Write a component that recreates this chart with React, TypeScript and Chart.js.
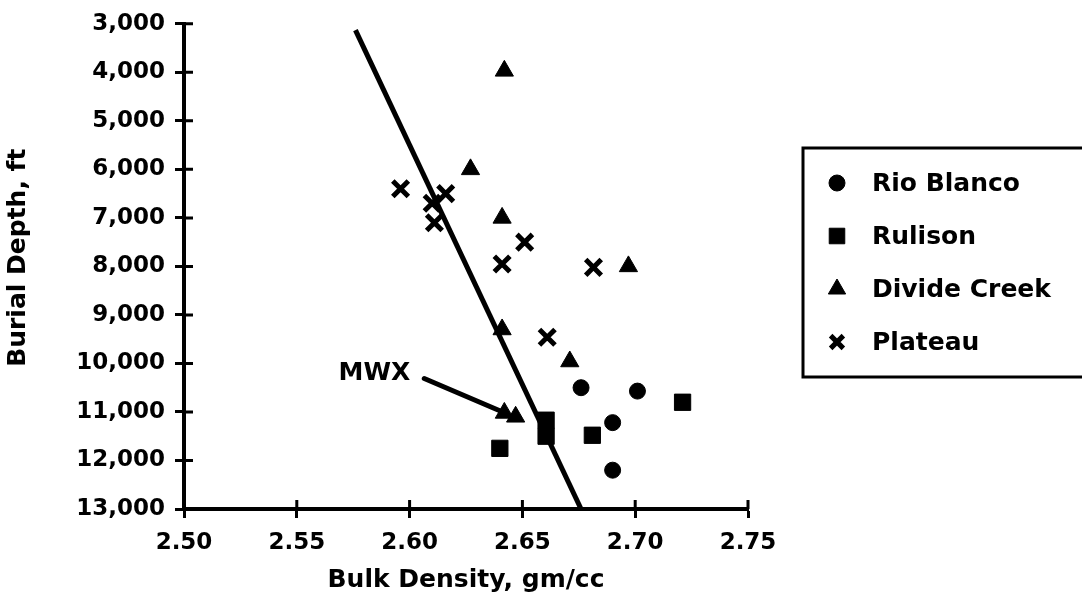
import React, { useEffect, useRef } from 'react';
import { Chart, registerables } from 'chart.js';
import { drawPoint } from 'chart.js/helpers';

Chart.register(...registerables);

// Bulk density (gm/cc) and burial depth (ft) per field
const rioBlancoDensity = [2.676, 2.701, 2.69, 2.69];
const rioBlancoDepth = [10500, 10570, 11220, 12200];

const rulisonDensity = [2.64, 2.6605, 2.6605, 2.681, 2.721];
const rulisonDepth = [11750, 11170, 11500, 11480, 10800];

const divideCreekDensity = [2.642, 2.627, 2.641, 2.697, 2.641, 2.671, 2.642, 2.647];
const divideCreekDepth = [3970, 6000, 7000, 8000, 9300, 9960, 11020, 11100];

const plateauDensity = [2.596, 2.616, 2.61, 2.611, 2.651, 2.641, 2.6815, 2.661];
const plateauDepth = [6400, 6500, 6700, 7100, 7500, 7950, 8020, 9460];

// Compaction trend line
const trendDensity = [2.576, 2.676];
const trendDepth = [3130, 13000];

// Axis ticks
const densityTicks = [2.5, 2.55, 2.6, 2.65, 2.7, 2.75];
const depthTicks = [3000, 4000, 5000, 6000, 7000, 8000, 9000, 10000, 11000, 12000, 13000];

// MWX well callout (arrow from label to its Divide Creek point)
const mwxLabel = 'MWX';
const mwxArrowStart = [2.6065, 10310];
const mwxArrowEnd = [2.6405, 10985];

const FONT = 'DejaVu Sans';
const INK = '#000000';

const pairs = (xs: number[], ys: number[]) => xs.map((x, i) => ({ x, y: ys[i] }));

const innerTicksPlugin = {
  id: 'innerTicks',
  afterDraw(chart: any) {
    const { ctx, chartArea, scales } = chart;
    const len = 9;
    ctx.save();
    ctx.strokeStyle = INK;
    ctx.lineWidth = 3;
    ctx.beginPath();
    for (const v of depthTicks) {
      const y = scales.y.getPixelForValue(v);
      ctx.moveTo(chartArea.left, y);
      ctx.lineTo(chartArea.left + len, y);
    }
    for (const v of densityTicks) {
      const x = scales.x.getPixelForValue(v);
      ctx.moveTo(x, chartArea.bottom);
      ctx.lineTo(x, chartArea.bottom - len);
    }
    ctx.stroke();
    ctx.restore();
  },
};

const calloutPlugin = {
  id: 'mwxCallout',
  afterDatasetsDraw(chart: any) {
    const { ctx, scales } = chart;
    const x0 = scales.x.getPixelForValue(mwxArrowStart[0]);
    const y0 = scales.y.getPixelForValue(mwxArrowStart[1]);
    const x1 = scales.x.getPixelForValue(mwxArrowEnd[0]);
    const y1 = scales.y.getPixelForValue(mwxArrowEnd[1]);
    ctx.save();
    ctx.strokeStyle = INK;
    ctx.lineWidth = 5;
    ctx.lineCap = 'round';
    ctx.beginPath();
    ctx.moveTo(x0, y0);
    ctx.lineTo(x1, y1);
    ctx.stroke();
    ctx.fillStyle = INK;
    ctx.font = `bold 25px "${FONT}"`;
    ctx.textAlign = 'right';
    ctx.textBaseline = 'middle';
    ctx.fillText(mwxLabel, x0 - 14, y0 - 5);
    ctx.restore();
  },
};

const boxedLegendPlugin = {
  id: 'boxedLegend',
  afterDraw(chart: any, _args: any, opts: any) {
    const { ctx } = chart;
    ctx.save();
    ctx.strokeStyle = INK;
    ctx.lineWidth = 3;
    ctx.strokeRect(opts.left, opts.top, opts.width, opts.height);
    ctx.font = `bold 25px "${FONT}"`;
    ctx.textAlign = 'left';
    ctx.textBaseline = 'middle';
    chart.data.datasets
      .filter((ds: any) => ds.type === 'scatter')
      .forEach((ds: any, i: number) => {
        const y = opts.top + opts.firstRow + i * opts.rowGap;
        ctx.fillStyle = INK;
        ctx.strokeStyle = INK;
        ctx.lineWidth = ds.pointBorderWidth;
        drawPoint(
          ctx,
          { pointStyle: ds.pointStyle, radius: ds.legendRadius, rotation: 0, borderWidth: ds.pointBorderWidth },
          opts.left + opts.markerOffset,
          y
        );
        ctx.fillText(ds.label, opts.left + opts.textOffset, y + 1);
      });
    ctx.restore();
  },
};

export default function App() {
  const canvasRef = useRef<HTMLCanvasElement | null>(null);

  useEffect(() => {
    if (!canvasRef.current) return;
    const tickFont = { family: FONT, size: 23, weight: 'bold' as const };
    const titleFont = { family: FONT, size: 25, weight: 'bold' as const };

    const chart = new Chart(canvasRef.current, {
      type: 'scatter',
      data: {
        datasets: [
          {
            type: 'scatter',
            label: 'Rio Blanco',
            data: pairs(rioBlancoDensity, rioBlancoDepth),
            pointStyle: 'circle',
            pointRadius: 8,
            legendRadius: 8,
            pointBackgroundColor: INK,
            pointBorderColor: INK,
            pointBorderWidth: 1,
          } as any,
          {
            type: 'scatter',
            label: 'Rulison',
            data: pairs(rulisonDensity, rulisonDepth),
            pointStyle: 'rect',
            pointRadius: 11.5,
            legendRadius: 11,
            pointBackgroundColor: INK,
            pointBorderColor: INK,
            pointBorderWidth: 1,
          } as any,
          {
            type: 'scatter',
            label: 'Divide Creek',
            data: pairs(divideCreekDensity, divideCreekDepth),
            pointStyle: 'triangle',
            pointRadius: 10.5,
            legendRadius: 10,
            pointBackgroundColor: INK,
            pointBorderColor: INK,
            pointBorderWidth: 1,
          } as any,
          {
            type: 'scatter',
            label: 'Plateau',
            data: pairs(plateauDensity, plateauDepth),
            pointStyle: 'crossRot',
            pointRadius: 11,
            legendRadius: 9,
            pointBackgroundColor: INK,
            pointBorderColor: INK,
            pointBorderWidth: 5,
          } as any,
          {
            type: 'line',
            label: 'Trend',
            data: pairs(trendDensity, trendDepth),
            borderColor: INK,
            borderWidth: 5,
            pointRadius: 0,
            fill: false,
            tension: 0,
          } as any,
        ],
      },
      options: {
        animation: false,
        responsive: true,
        maintainAspectRatio: false,
        events: [],
        layout: { padding: { left: 0, top: 22, right: 334, bottom: 0 } },
        plugins: {
          legend: { display: false },
          tooltip: { enabled: false },
          boxedLegend: {
            left: 803,
            top: 148,
            width: 300,
            height: 229,
            firstRow: 35,
            rowGap: 53,
            markerOffset: 34,
            textOffset: 69,
          },
        } as any,
        scales: {
          x: {
            type: 'linear',
            position: 'bottom',
            min: 2.5,
            max: 2.75,
            afterBuildTicks: (scale: any) => {
              scale.ticks = densityTicks.map((value) => ({ value }));
            },
            afterFit: (scale: any) => {
              scale.height = 87;
            },
            ticks: {
              color: INK,
              font: tickFont,
              padding: 11,
              callback: (v: any) => Number(v).toFixed(2),
            },
            grid: {
              drawOnChartArea: false,
              drawTicks: true,
              tickLength: 9,
              tickWidth: 3,
              tickColor: INK,
            },
            border: { display: true, color: INK, width: 4 },
            title: {
              display: true,
              text: 'Bulk Density, gm/cc',
              color: INK,
              font: titleFont,
              padding: { top: 0, bottom: 1 },
            },
          },
          y: {
            type: 'linear',
            position: 'left',
            reverse: true,
            min: 3000,
            max: 13000,
            afterBuildTicks: (scale: any) => {
              scale.ticks = depthTicks.map((value) => ({ value }));
            },
            afterFit: (scale: any) => {
              scale.width = 184;
            },
            ticks: {
              color: INK,
              font: tickFont,
              padding: 10,
              callback: (v: any) => Number(v).toLocaleString('en-US'),
            },
            grid: {
              drawOnChartArea: false,
              drawTicks: true,
              tickLength: 9,
              tickWidth: 3,
              tickColor: INK,
            },
            border: { display: true, color: INK, width: 4 },
            title: {
              display: true,
              // leading spaces lift the rotated title slightly above the axis centre
              text: '  Burial Depth, ft',
              color: INK,
              font: titleFont,
              padding: { top: 3, bottom: 0 },
            },
          },
        },
      },
      plugins: [innerTicksPlugin, calloutPlugin, boxedLegendPlugin],
    });

    return () => chart.destroy();
  }, []);

  return (
    <div
      style={{
        position: 'fixed',
        left: 0,
        top: 0,
        width: '1082px',
        height: '596px',
        background: '#ffffff',
      }}
    >
      <canvas ref={canvasRef} />
    </div>
  );
}
